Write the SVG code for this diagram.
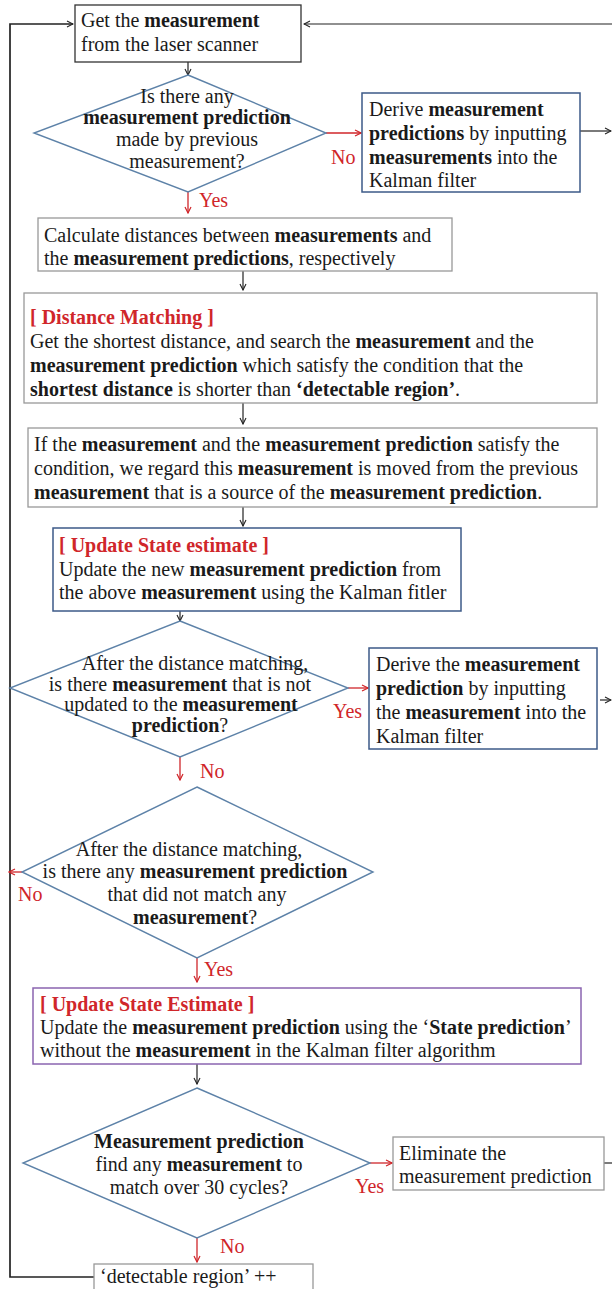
<svg xmlns="http://www.w3.org/2000/svg" width="612" height="1289" viewBox="0 0 612 1289">
<defs>
<style>
text{font-family:"Liberation Serif","Times New Roman",serif;font-size:20px;fill:#1a1a1a}
.b{font-weight:bold}
.r{fill:#d0262a}
.rb{fill:#d0262a;font-weight:bold}
.m{text-anchor:middle}
.gbox{fill:#fff;stroke:#999;stroke-width:1.3}
.dbox{fill:#fff;stroke:#333;stroke-width:1.3}
.bbox{fill:#fff;stroke:#3c5a88;stroke-width:1.5}
.pbox{fill:#fff;stroke:#8a64b0;stroke-width:1.5}
.dia{fill:#fff;stroke:#5d82a8;stroke-width:1.4}
.k{fill:none;stroke:#222;stroke-width:1.2}
.kl{fill:none;stroke:#222;stroke-width:1.7}
.red{fill:none;stroke:#d0262a;stroke-width:1.3}
</style>
<marker id="ak" markerWidth="8" markerHeight="8" refX="7" refY="4" orient="auto" markerUnits="userSpaceOnUse"><path d="M1,1 L7,4 L1,7" fill="none" stroke="#222" stroke-width="1.1"/></marker>
<marker id="ar" markerWidth="8" markerHeight="8" refX="7" refY="4" orient="auto" markerUnits="userSpaceOnUse"><path d="M1,1 L7,4 L1,7" fill="none" stroke="#d0262a" stroke-width="1.2"/></marker>
</defs>
<rect width="612" height="1289" fill="#fff"/>

<g id="connectors">
<path class="kl" d="M94,1277 H10 V24 H73" marker-end="url(#ak)"/>
<path class="k" d="M612,24 H304" marker-end="url(#ak)"/>
<path class="k" d="M188,62 V75" marker-end="url(#ak)"/>
<path class="red" d="M326,133 H361" marker-end="url(#ar)"/>
<path class="k" d="M580,131 H611" marker-end="url(#ak)"/>
<path class="red" d="M188,192 V213" marker-end="url(#ar)"/>
<path class="k" d="M243,271 V290" marker-end="url(#ak)"/>
<path class="k" d="M243,403 V424" marker-end="url(#ak)"/>
<path class="k" d="M243,507 V526" marker-end="url(#ak)"/>
<path class="k" d="M180,611 V621" marker-end="url(#ak)"/>
<path class="red" d="M348,688 H368" marker-end="url(#ar)"/>
<path class="k" d="M600,700 H611" marker-end="url(#ak)"/>
<path class="red" d="M180,757 V780" marker-end="url(#ar)"/>
<path class="red" d="M22,872 H9" marker-end="url(#ar)"/>
<path class="red" d="M197,958 V982" marker-end="url(#ar)"/>
<path class="k" d="M197,1064 V1084" marker-end="url(#ak)"/>
<path class="red" d="M370,1163 H392" marker-end="url(#ar)"/>
<path class="k" d="M604,1163 H612"/>
<path class="red" d="M197,1238 V1262" marker-end="url(#ar)"/>
</g>

<g id="n-get">
<rect class="dbox" x="75" y="5" width="226" height="57"/>
<text x="81" y="27">Get the <tspan class="b">measurement</tspan></text>
<text x="81" y="51">from the laser scanner</text>
</g>

<g id="n-d1">
<polygon class="dia" points="188,75 326,133 188,192 34,133"/>
<text class="m" x="187" y="103">Is there any</text>
<text class="m b" x="187" y="124">measurement prediction</text>
<text class="m" x="187" y="146">made by previous</text>
<text class="m" x="187" y="168">measurement?</text>
</g>
<text class="r" x="331" y="164">No</text>
<text class="r" x="199" y="207">Yes</text>

<g id="n-derive1">
<rect class="bbox" x="362" y="93" width="218" height="99"/>
<text x="369" y="116">Derive <tspan class="b">measurement</tspan></text>
<text x="369" y="140"><tspan class="b">predictions</tspan> by inputting</text>
<text x="369" y="164"><tspan class="b">measurements</tspan> into the</text>
<text x="369" y="187">Kalman filter</text>
</g>

<g id="n-calc">
<rect class="gbox" x="38" y="218" width="414" height="53"/>
<text x="44" y="242">Calculate distances between <tspan class="b">measurements</tspan> and</text>
<text x="44" y="265">the <tspan class="b">measurement predictions</tspan>, respectively</text>
</g>

<g id="n-match">
<rect class="gbox" x="24" y="293" width="573" height="110"/>
<text class="rb" x="30" y="324">[ Distance Matching ]</text>
<text x="30" y="348">Get the shortest distance, and search the <tspan class="b">measurement</tspan> and the</text>
<text x="30" y="372"><tspan class="b">measurement prediction</tspan> which satisfy the condition that the</text>
<text x="30" y="396"><tspan class="b">shortest distance</tspan> is shorter than <tspan class="b">‘detectable region’</tspan>.</text>
</g>

<g id="n-if">
<rect class="gbox" x="28" y="428" width="569" height="79"/>
<text x="34" y="451">If the <tspan class="b">measurement</tspan> and the <tspan class="b">measurement prediction</tspan> satisfy the</text>
<text x="34" y="475">condition, we regard this <tspan class="b">measurement</tspan> is moved from the previous</text>
<text x="34" y="499"><tspan class="b">measurement</tspan> that is a source of the <tspan class="b">measurement prediction</tspan>.</text>
</g>

<g id="n-update1">
<rect class="bbox" x="53" y="528" width="408" height="83"/>
<text class="rb" x="59" y="552">[ Update State estimate ]</text>
<text x="59" y="576">Update the new <tspan class="b">measurement prediction</tspan> from</text>
<text x="59" y="599">the above <tspan class="b">measurement</tspan> using the Kalman fitler</text>
</g>

<g id="n-d2">
<polygon class="dia" points="180,621 348,688 180,757 10,688"/>
<text class="m" x="195" y="670">After the distance matching,</text>
<text class="m" x="180" y="691">is there <tspan class="b">measurement</tspan> that is not</text>
<text class="m" x="181" y="711">updated to the <tspan class="b">measurement</tspan></text>
<text class="m b" x="180" y="732">prediction<tspan font-weight="normal">?</tspan></text>
</g>
<text class="r" x="333" y="718">Yes</text>
<text class="r" x="200" y="778">No</text>

<g id="n-derive2">
<rect class="bbox" x="369" y="648" width="228" height="101"/>
<text x="376" y="671">Derive the <tspan class="b">measurement</tspan></text>
<text x="376" y="695"><tspan class="b">prediction</tspan> by inputting</text>
<text x="376" y="719">the <tspan class="b">measurement</tspan> into the</text>
<text x="376" y="743">Kalman filter</text>
</g>

<g id="n-d3">
<polygon class="dia" points="197,787 373,872 197,958 22,872"/>
<text class="m" x="189" y="856">After the distance matching,</text>
<text class="m" x="195" y="878">is there any <tspan class="b">measurement prediction</tspan></text>
<text class="m" x="197" y="901">that did not match any</text>
<text class="m b" x="195" y="924">measurement<tspan font-weight="normal">?</tspan></text>
</g>
<text class="r" x="18" y="901">No</text>
<text class="r" x="204" y="976">Yes</text>

<g id="n-update2">
<rect class="pbox" x="33" y="988" width="548" height="76"/>
<text class="rb" x="40" y="1011">[ Update State Estimate ]</text>
<text x="40" y="1034">Update the <tspan class="b">measurement prediction</tspan> using the ‘<tspan class="b">State prediction</tspan>’</text>
<text x="40" y="1057">without the <tspan class="b">measurement</tspan> in the Kalman filter algorithm</text>
</g>

<g id="n-d4">
<polygon class="dia" points="197,1088 370,1163 197,1238 23,1163"/>
<text class="m b" x="199" y="1148">Measurement prediction</text>
<text class="m" x="199" y="1171">find any <tspan class="b">measurement</tspan> to</text>
<text class="m" x="199" y="1194">match over 30 cycles?</text>
</g>
<text class="r" x="355" y="1193">Yes</text>
<text class="r" x="220" y="1253">No</text>

<g id="n-elim">
<rect class="gbox" x="393" y="1137" width="211" height="53"/>
<text x="399" y="1160">Eliminate the</text>
<text x="399" y="1183">measurement prediction</text>
</g>

<g id="n-region">
<rect class="gbox" x="94" y="1264" width="219" height="30"/>
<text x="100" y="1283">‘detectable region’ ++</text>
</g>
</svg>
